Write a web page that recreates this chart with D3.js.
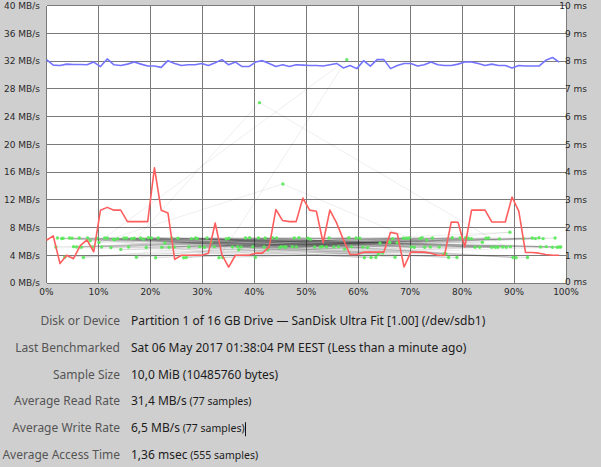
<!DOCTYPE html>
<html>
<head>
<meta charset="utf-8">
<script src="https://cdn.jsdelivr.net/npm/d3@7"></script>
<style>
  body { margin: 0; background: #cfcfcf; }
  svg { display: block; }
</style>
</head>
<body>
<div class="chart"></div>
<script>
const FRAME_WIDTH = 601;
const FRAME_HEIGHT = 467;
const PLOT = {left: 46.5, right: 566, top: 5.5, bottom: 283};

// read rate, MB/s, 77 samples
const readRate = [
  32.2, 31.4, 31.35, 31.55, 31.5, 31.5, 31.45, 31.85, 31.2, 32.3,
  31.45, 31.35, 31.55, 31.85, 31.55, 31.27, 31.27, 31.08, 32.05, 31.65,
  31.35, 31.45, 31.45, 31.65, 31.35, 31.75, 32.2, 31.45, 31.85, 31.2,
  31.2, 31.85, 32.05, 31.65, 31.2, 31.45, 31.2, 31.45, 31.4, 31.35,
  31.35, 31.27, 31.45, 31.65, 31.0, 31.35, 30.9, 32.05, 31.27, 32.2,
  32.2, 30.9, 31.35, 31.65, 31.65, 31.27, 31.45, 31.85, 31.45, 31.35,
  31.35, 31.55, 31.85, 31.85, 31.65, 31.35, 31.55, 31.35, 31.35, 31.0,
  31.35, 31.27, 31.27, 31.27, 32.1, 32.5, 31.85
];

// write rate, MB/s, 77 samples
const writeRate = [
  6.16, 6.8, 2.8, 4.0, 3.5, 5.4, 6.2, 4.5, 10.5, 10.9,
  10.5, 10.5, 8.85, 8.85, 8.85, 8.85, 16.6, 10.5, 10.1, 3.4,
  4.0, 4.0, 4.0, 4.0, 4.3, 8.65, 4.1, 2.3, 4.0, 4.0,
  4.0, 4.3, 4.3, 5.2, 10.6, 9.0, 8.85, 8.85, 12.25, 10.5,
  10.35, 5.8, 10.5, 8.65, 6.25, 4.1, 4.1, 4.45, 4.45, 4.45,
  4.45, 7.3, 7.1, 2.3, 4.45, 4.45, 4.45, 4.3, 4.0, 4.0,
  8.8, 8.75, 5.2, 10.5, 10.5, 10.5, 8.8, 8.8, 8.8, 12.4,
  10.35, 4.4, 4.4, 4.3, 4.1, 4.0, 4.0
];

// access time samples: position on disk (%) and time (ms), in sample order
const accessPct = [
  2.1, 55.3, 18.7, 83.4, 40.2, 7.9, 66.1, 29.5, 91.8, 12.4,
  48.6, 73.2, 3.5, 60.9, 35.1, 97.4, 22.8, 79.6, 14.3, 52.7,
  87.2, 26.4, 69.8, 5.2, 44.9, 94.1, 31.7, 58.2, 10.6, 76.5,
  38.3, 85.7, 16.9, 63.4, 1.8, 50.8, 24.1, 89.3, 42.6, 71.9,
  8.8, 57.8, 33.2, 98.3, 19.6, 67.5, 46.1, 81.2, 4.4, 61.8,
  27.9, 92.6, 36.8, 74.3, 13.1, 53.9, 86.4, 21.5, 64.7, 9.7,
  45.8, 78.1, 30.4, 95.6, 17.3, 59.6, 39.7, 83.9, 6.3, 70.2,
  25.3, 88.5, 41.0, 15.8, 62.5, 34.6, 96.2, 11.2, 57.4, 80.7,
  41.9, 2.9, 72.8, 28.7, 90.4, 47.3, 20.2, 65.9, 37.5, 84.6,
  7.1, 54.4, 99.0, 23.6, 68.7, 43.5, 12.9, 77.4, 32.3, 93.5,
  51.6, 18.1, 63.9, 4.9, 86.9, 39.1, 26.9, 73.9, 45.5, 10.1,
  45.2, 81.8, 14.9, 67.1, 35.8, 97.9, 22.2, 60.3, 8.4, 75.6,
  30.9, 89.8, 53.1, 16.4, 70.8, 42.1, 94.8, 27.4, 61.2, 3.2,
  48.1, 85.1, 19.2, 66.6, 37.0, 79.0, 11.7, 56.2, 89.2, 24.6,
  44.3, 6.7, 72.3, 33.9, 87.8, 50.3, 15.4, 64.2, 98.7, 29.0,
  58.7, 40.8, 82.5, 21.0, 69.3, 5.8, 47.7, 76.9, 13.7, 95.1
];
const accessMs = [
  1.62, 1.30, 1.58, 1.29, 0.92, 1.62, 1.46, 1.31, 1.60, 1.28,
  1.63, 1.55, 0.93, 1.30, 1.61, 1.29, 1.44, 1.62, 1.21, 1.30,
  1.59, 0.91, 1.62, 1.31, 1.28, 1.60, 1.48, 1.63, 1.30, 1.05,
  1.62, 1.29, 1.61, 0.92, 1.30, 1.58, 1.62, 1.31, 1.20, 1.60,
  1.30, 8.05, 0.91, 1.29, 1.63, 1.45, 1.30, 1.61, 1.62, 1.28,
  1.60, 0.92, 1.31, 1.62, 1.56, 1.30, 1.29, 1.62, 1.08, 1.61,
  1.30, 1.63, 1.29, 1.60, 0.93, 1.62, 1.31, 1.47, 1.62, 1.30,
  1.61, 1.29, 6.50, 1.30, 0.92, 1.59, 1.31, 1.62, 1.22, 1.63,
  1.30, 1.60, 1.29, 1.62, 0.91, 1.31, 1.62, 1.49, 1.30, 1.61,
  0.92, 1.62, 1.30, 1.29, 1.61, 1.63, 1.58, 0.92, 1.31, 1.62,
  1.30, 1.62, 1.04, 1.61, 1.29, 1.63, 0.92, 1.30, 3.57, 1.46,
  1.31, 1.60, 1.62, 0.93, 1.30, 1.62, 1.29, 1.61, 1.52, 1.30,
  1.62, 0.92, 1.31, 1.60, 1.29, 1.62, 1.63, 1.30, 0.91, 1.61,
  1.30, 1.62, 1.28, 1.60, 1.20, 0.92, 1.62, 1.31, 1.83, 1.30,
  1.62, 1.29, 1.63, 0.92, 1.30, 1.61, 1.62, 1.43, 1.30, 1.60,
  1.31, 1.62, 1.29, 0.91, 1.61, 1.30, 1.62, 1.05, 1.60, 1.30
];

const xTicks = [0, 10, 20, 30, 40, 50, 60, 70, 80, 90, 100];
const mbTicks = [0, 4, 8, 12, 16, 20, 24, 28, 32, 36, 40];
const msTicks = [0, 1, 2, 3, 4, 5, 6, 7, 8, 9, 10];

const infoLabels = ["Disk or Device", "Last Benchmarked", "Sample Size",
  "Average Read Rate", "Average Write Rate", "Average Access Time"];
const infoValues = [
  "Partition 1 of 16 GB Drive \u2014 SanDisk Ultra Fit [1.00] (/dev/sdb1)",
  "Sat 06 May 2017 01:38:04 PM EEST (Less than a minute ago)",
  "10,0 MiB (10485760 bytes)",
  "31,4 MB/s", "6,5 MB/s", "1,36 msec"];
const infoNotes = ["", "", "", "(77 samples)", "(77 samples)", "(555 samples)"];

const svg = d3.select(".chart").append("svg")
  .attr("width", FRAME_WIDTH)
  .attr("height", FRAME_HEIGHT);

svg.append("rect")
  .attr("width", FRAME_WIDTH).attr("height", FRAME_HEIGHT)
  .attr("fill", "#cfcfcf");

const X_SCALE = d3.scaleLinear().domain([0, 100]).range([PLOT.left, PLOT.right]);
const MB_SCALE = d3.scaleLinear().domain([0, 40]).range([PLOT.bottom, PLOT.top]);
const MS_SCALE = d3.scaleLinear().domain([0, 10]).range([PLOT.bottom, PLOT.top]);
const SAMPLE_X = (i) => X_SCALE(i / readRate.length * 100);

svg.append("rect")
  .attr("x", PLOT.left).attr("y", PLOT.top)
  .attr("width", PLOT.right - PLOT.left).attr("height", PLOT.bottom - PLOT.top)
  .attr("fill", "#fff");

// grid
const grid = svg.append("g").attr("stroke", "#7a7a7a").attr("stroke-width", 1)
  .attr("shape-rendering", "crispEdges");
grid.selectAll(".gx").data(xTicks).enter().append("line")
  .attr("x1", (d) => X_SCALE(d)).attr("x2", (d) => X_SCALE(d))
  .attr("y1", PLOT.top).attr("y2", PLOT.bottom);
grid.selectAll(".gy").data(mbTicks).enter().append("line")
  .attr("y1", (d) => MB_SCALE(d)).attr("y2", (d) => MB_SCALE(d))
  .attr("x1", PLOT.left).attr("x2", PLOT.right);

// axis labels
const tickFont = {family: "DejaVu Sans", size: "9px", fill: "#2a2a2a"};
svg.append("g").selectAll("text").data(mbTicks).enter().append("text")
  .attr("x", 40).attr("y", (d) => MB_SCALE(d) + 3.3)
  .attr("text-anchor", "end")
  .attr("font-family", tickFont.family).attr("font-size", tickFont.size)
  .attr("fill", tickFont.fill)
  .text((d) => d + " MB/s");
svg.append("g").selectAll("text").data(msTicks).enter().append("text")
  .attr("x", 587).attr("y", (d) => MS_SCALE(d) + (d === 0 ? 1.5 : 3.3))
  .attr("text-anchor", "end")
  .attr("font-family", tickFont.family).attr("font-size", tickFont.size)
  .attr("fill", tickFont.fill)
  .text((d) => d + " ms");
svg.append("g").selectAll("text").data(xTicks).enter().append("text")
  .attr("x", (d) => X_SCALE(d)).attr("y", 294.5)
  .attr("text-anchor", "middle")
  .attr("font-family", tickFont.family).attr("font-size", tickFont.size)
  .attr("fill", tickFont.fill)
  .text((d) => d + "%");

// access time: seek lines then dots
const accessPts = accessPct.map((p, i) => [X_SCALE(p), MS_SCALE(accessMs[i])]);
const seeks = svg.append("g").attr("stroke", "#1a1a1a").attr("stroke-opacity", 0.075)
  .attr("stroke-width", 1);
seeks.selectAll("line").data(d3.pairs(accessPts)).enter().append("line")
  .attr("x1", (d) => d[0][0]).attr("y1", (d) => d[0][1])
  .attr("x2", (d) => d[1][0]).attr("y2", (d) => d[1][1]);
svg.append("g").selectAll("circle").data(accessPts).enter().append("circle")
  .attr("cx", (d) => d[0]).attr("cy", (d) => d[1])
  .attr("r", 1.7)
  .attr("fill", "#55ea55").attr("fill-opacity", 0.9);

// write / read lines
const rateLine = d3.line().x((d, i) => SAMPLE_X(i)).y((d) => MB_SCALE(d));
svg.append("path").datum(writeRate)
  .attr("d", rateLine)
  .attr("fill", "none").attr("stroke", "#ff5e5e").attr("stroke-width", 1.6)
  .attr("stroke-linejoin", "round");
svg.append("path").datum(readRate)
  .attr("d", rateLine)
  .attr("fill", "none").attr("stroke", "#7474ff").attr("stroke-width", 1.6)
  .attr("stroke-linejoin", "round");

// info table
const ROW_Y = (i) => 325 + i * 26.8;
const info = svg.append("g").attr("font-family", "Noto Sans");
info.selectAll(".lab").data(infoLabels).enter().append("text")
  .attr("x", 120).attr("y", (d, i) => ROW_Y(i))
  .attr("text-anchor", "end").attr("font-size", "12px").attr("fill", "#555")
  .text((d) => d);
const vals = info.selectAll(".val").data(infoValues).enter().append("text")
  .attr("x", 131).attr("y", (d, i) => ROW_Y(i))
  .attr("font-size", "12px").attr("fill", "#1c1c1c");
vals.append("tspan").text((d) => d);
vals.append("tspan")
  .attr("font-size", "10.5px")
  .text((d, i) => infoNotes[i] ? " " + infoNotes[i] : "");

// text cursor after the write rate row
svg.append("line")
  .attr("x1", 245.5).attr("x2", 245.5)
  .attr("y1", ROW_Y(4) - 10).attr("y2", ROW_Y(4) + 4)
  .attr("stroke", "#111").attr("stroke-width", 1);
</script>
</body>
</html>
